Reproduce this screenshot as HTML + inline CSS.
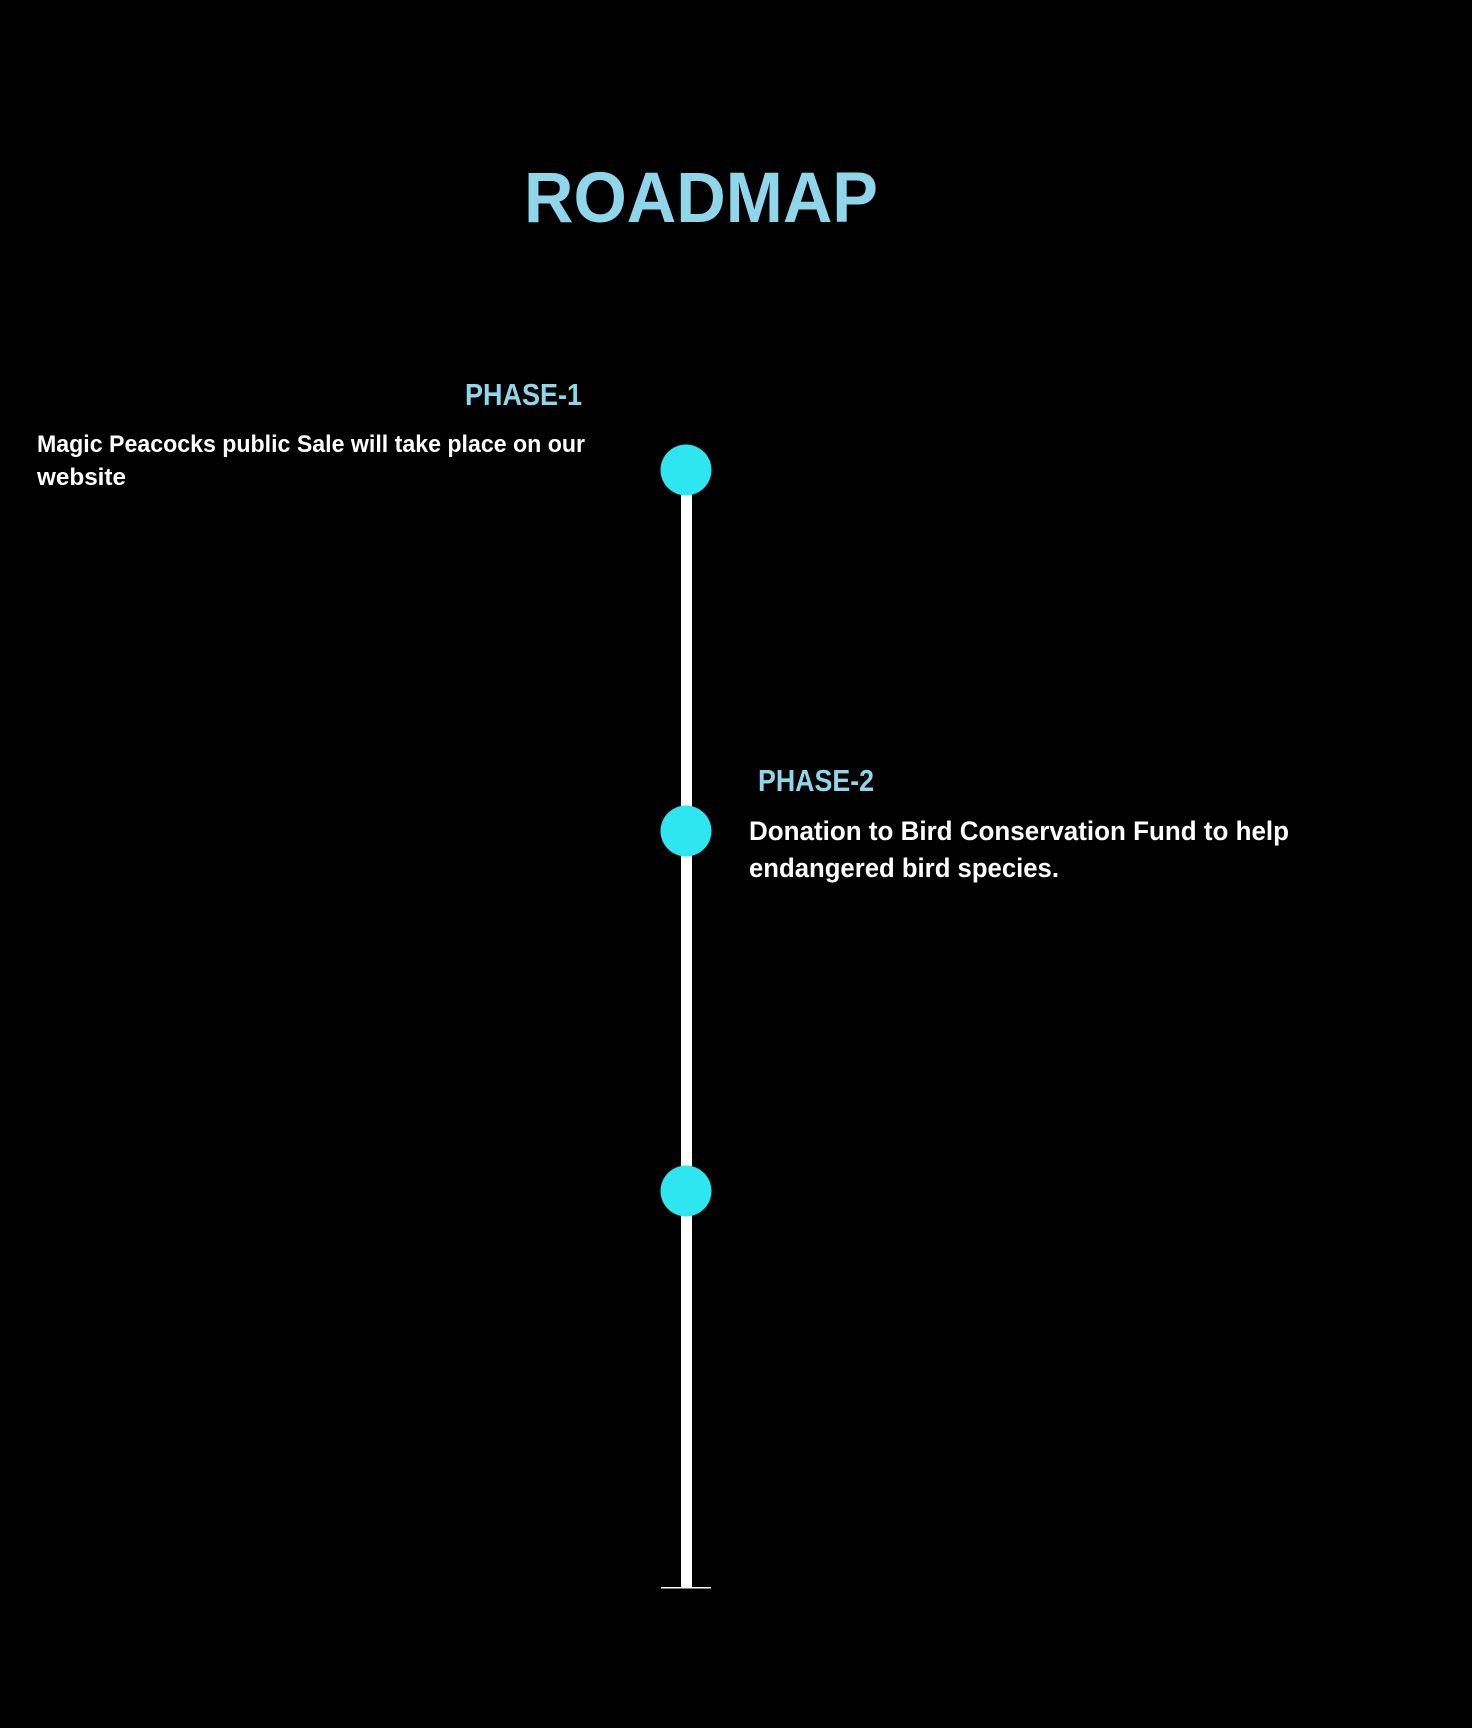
<!DOCTYPE html>
<html><head><meta charset="utf-8"><style>
html,body{margin:0;padding:0;background:#000;}
svg{display:block;}
</style></head><body>
<svg width="1472" height="1728" viewBox="0 0 1472 1728" xmlns="http://www.w3.org/2000/svg" font-family="Liberation Sans, Arial, sans-serif" font-weight="bold">
<rect width="1472" height="1728" fill="#000"/>
<text x="524" y="222" font-size="71" fill="#8fd6ea" textLength="354" lengthAdjust="spacingAndGlyphs">ROADMAP</text>
<text x="465" y="405" font-size="31" fill="#8fd6ea" textLength="117" lengthAdjust="spacingAndGlyphs">PHASE-1</text>
<text x="37" y="452" font-size="24" fill="#fff" textLength="548" lengthAdjust="spacingAndGlyphs">Magic Peacocks public Sale will take place on our</text>
<text x="37" y="485" font-size="24" fill="#fff" textLength="89" lengthAdjust="spacingAndGlyphs">website</text>
<text x="758" y="791" font-size="31" fill="#8fd6ea" textLength="116" lengthAdjust="spacingAndGlyphs">PHASE-2</text>
<text x="749" y="840" font-size="27" fill="#fff" textLength="540" lengthAdjust="spacingAndGlyphs">Donation to Bird Conservation Fund to help</text>
<text x="749" y="877" font-size="27" fill="#fff" textLength="310" lengthAdjust="spacingAndGlyphs">endangered bird species.</text>
<rect x="681" y="480" width="11" height="1108" fill="#fff"/>
<rect x="661" y="1587" width="50" height="1.5" fill="#fff"/>
<circle cx="686" cy="470" r="25.5" fill="#2ee6f0"/>
<circle cx="686" cy="831" r="25.5" fill="#2ee6f0"/>
<circle cx="686" cy="1191" r="25.5" fill="#2ee6f0"/>
</svg>
</body></html>
